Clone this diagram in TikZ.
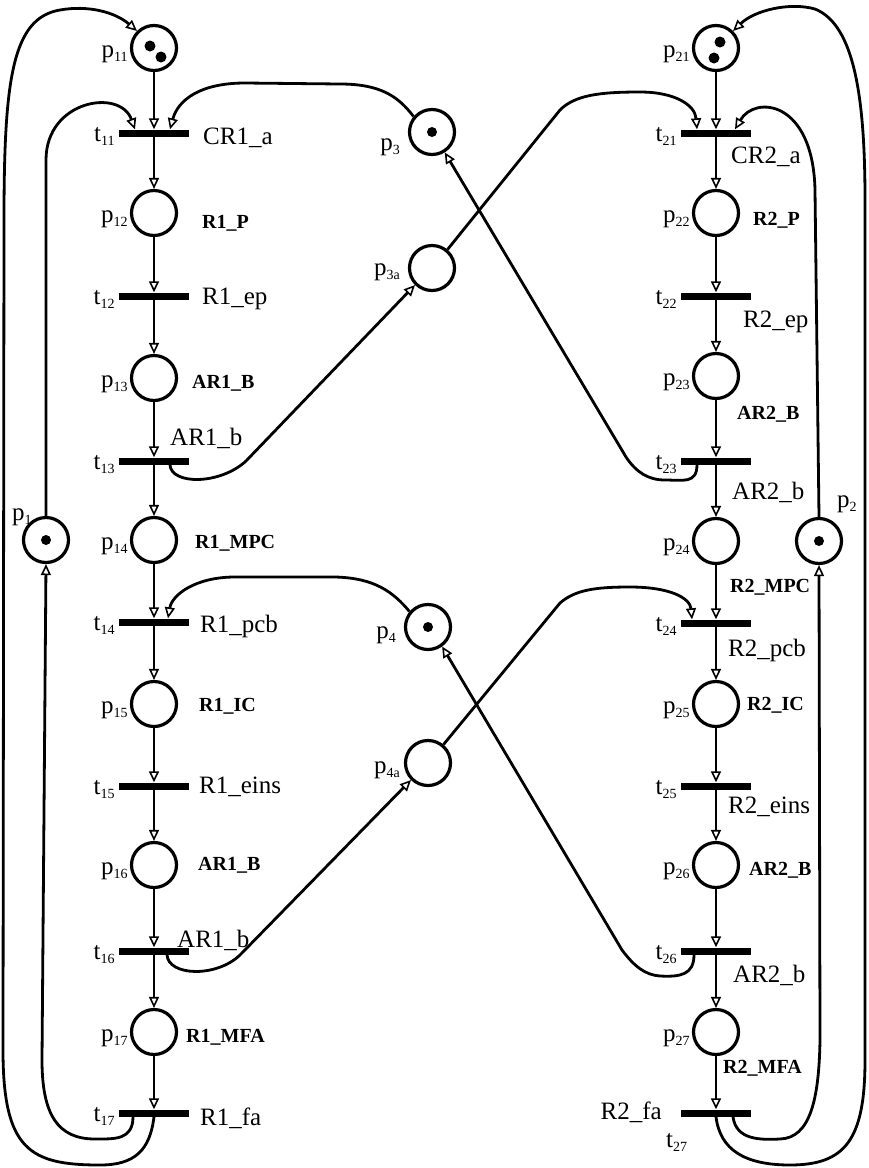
\documentclass[tikz,border=0pt]{standalone}
\usepackage{fontspec}
\setmainfont{Liberation Serif}
\usetikzlibrary{arrows.meta}
\newcommand\ix[1]{\raisebox{-4pt}{\fontsize{14}{14}\selectfont #1}}
\tikzset{
  place/.style={circle, draw, line width=3.2pt, minimum size=45pt, inner sep=0pt},
  trans/.style={rectangle, fill=black, minimum width=70pt, minimum height=7pt, inner sep=0pt},
  pnarc/.style={line width=2.8pt, -{Triangle[open, length=11pt, width=10pt, line width=1.6pt]}},
  lab/.style={font=\fontsize{25}{30}\selectfont, inner sep=0pt, anchor=base west},
  blab/.style={font=\fontsize{20}{24}\selectfont\bfseries, inner sep=0pt, anchor=base west},
  plab/.style={font=\fontsize{25}{30}\selectfont, inner sep=0pt, anchor=base east},
}
\begin{document}
\begin{tikzpicture}[x=1pt,y=-1pt]
\fill[white] (0,0) rectangle (868,1168);
\useasboundingbox (0,0) rectangle (868,1168);

% left column
\node[place] (p11) at (154,48) {};
\node[trans] (t11) at (154,133) {};
\node[place] (p12) at (154,213) {};
\node[trans] (t12) at (154,296) {};
\node[place] (p13) at (154,378) {};
\node[trans] (t13) at (154,461) {};
\node[place] (p14) at (154,540) {};
\node[trans] (t14) at (154,622) {};
\node[place] (p15) at (154,704) {};
\node[trans] (t15) at (154,786) {};
\node[place] (p16) at (154,865) {};
\node[trans] (t16) at (154,951) {};
\node[place] (p17) at (154,1032) {};
\node[trans] (t17) at (154,1113) {};
% right column
\node[place] (p21) at (716,48) {};
\node[trans] (t21) at (716,133) {};
\node[place] (p22) at (716,213) {};
\node[trans] (t22) at (716,296) {};
\node[place] (p23) at (716,376) {};
\node[trans] (t23) at (716,461) {};
\node[place] (p24) at (716,541) {};
\node[trans] (t24) at (716,623) {};
\node[place] (p25) at (716,704) {};
\node[trans] (t25) at (716,786) {};
\node[place] (p26) at (716,865) {};
\node[trans] (t26) at (716,951) {};
\node[place] (p27) at (716,1032) {};
\node[trans] (t27) at (716,1113) {};
% resources
\node[place] (p1) at (46,540) {};
\node[place] (p2) at (819,541) {};
\node[place] (p3) at (432,132) {};
\node[place] (p3a) at (432,268) {};
\node[place] (p4) at (428,627) {};
\node[place] (p4a) at (428,763) {};

% tokens
\fill (150,46) circle (5.5pt);
\fill (161,57) circle (5.5pt);
\fill (720,42) circle (5.5pt);
\fill (714,58) circle (5.5pt);
\fill (p1) circle (5pt);
\fill (p2) circle (5pt);
\fill (p3) circle (5pt);
\fill (p4) circle (5pt);

% column arcs
\foreach \a/\b in {p11/t11,t11/p12,p12/t12,t12/p13,p13/t13,t13/p14,p14/t14,t14/p15,p15/t15,t15/p16,p16/t16,t16/p17,p17/t17,
  p21/t21,t21/p22,p22/t22,t22/p23,p23/t23,t23/p24,p24/t24,t24/p25,p25/t25,t25/p26,p26/t26,t26/p27,p27/t27}
  \draw[pnarc] (\a) -- (\b);

% robot 1 loops
\draw[pnarc] (p1.north) -- (46,160) .. controls (46,100) and (120,88) .. ([xshift=-19pt]t11.north);
\draw[pnarc] ([xshift=-21pt]t17.south) .. controls (133,1140) and (115,1139) .. (95,1139)
   .. controls (58,1139) and (42,1115) .. (42,1060) -- (p1.south);
\draw[pnarc] (t17.south) .. controls (150,1150) and (135,1165) .. (100,1165)
   .. controls (30,1165) and (3,1150) .. (3,1050) -- (4,220)
   .. controls (4,80) and (12,18) .. (60,10) .. controls (88,5) and (115,12) .. (p11.135);
% robot 2 loops
\draw[pnarc] (p2.north) -- (815,190) .. controls (813,100) and (755,95) .. ([xshift=19pt]t21.north);
\draw[pnarc] ([xshift=17pt]t27.south) .. controls (736,1140) and (760,1140) .. (780,1139)
   .. controls (810,1138) and (819,1100) .. (820,1040) -- (p2.south);
\draw[pnarc] (t27.south) .. controls (720,1150) and (745,1165) .. (790,1165)
   .. controls (845,1165) and (865,1140) .. (865,1060) -- (865,200)
   .. controls (865,100) and (855,25) .. (815,9) .. controls (790,2) and (755,10) .. (p21.45);

% shared resource p3 / p3a
\draw[pnarc] (p3.140) .. controls (398,96) and (380,84) .. (340,84) -- (245,83)
   .. controls (200,83) and (178,100) .. ([xshift=16pt]t11.north);
\draw[pnarc] ([xshift=16pt]t13.south) .. controls (171,485) and (220,485) .. (246,461) -- (p3a.225);
\draw[pnarc] (p3a.50) -- (560,110) .. controls (575,95) and (600,92) .. (640,92)
   .. controls (675,92) and (695,105) .. ([xshift=-19pt]t21.north);
\draw[pnarc] ([xshift=-19pt]t23.south) .. controls (697,484) and (683,480) .. (665,480)
   .. controls (648,480) and (636,472) .. (626,457) -- (p3.-58);
% shared resource p4 / p4a
\draw[pnarc] (p4.140) .. controls (393,592) and (375,578) .. (335,577) -- (235,577)
   .. controls (195,577) and (172,595) .. ([xshift=14pt]t14.north);
\draw[pnarc] ([xshift=13pt]t16.south) .. controls (168,976) and (216,978) .. (240,955) -- (p4a.225);
\draw[pnarc] (p4a.50) -- (560,603) .. controls (575,590) and (595,587) .. (630,587)
   .. controls (670,587) and (690,598) .. ([xshift=-24pt]t24.north);
\draw[pnarc] ([xshift=-22pt]t26.south) .. controls (694,975) and (680,977) .. (660,976)
   .. controls (645,975) and (634,966) .. (622,950) -- (p4.-54);

% place labels
\foreach \n/\s in {p11/11,p12/12,p13/13,p14/14,p15/15,p16/16,p17/17,p21/21,p22/22,p23/23,p24/24,p25/25,p26/26,p27/27}
  \node[plab] (l\n) at ([xshift=-2pt,yshift=-9pt]\n.west) {p\ix{\s}};
\node[plab] (lp3) at (400,150) {p\ix{3}};
\node[plab] (lp3a) at (400,275) {p\ix{3a}};
\node[plab] (lp4) at (396,638) {p\ix{4}};
\node[plab] (lp4a) at (400,773) {p\ix{4a}};
\node[lab] (lp1) at (12,520) {p\ix{1}};
\node[lab] (lp2) at (837,507) {p\ix{2}};
% transition labels
\foreach \n/\s in {t11/11,t12/12,t13/13,t14/14,t15/15,t16/16,t17/17,t21/21,t22/22,t23/23,t24/24,t25/25,t26/26}
  \node[plab] (l\n) at ([xshift=-4pt,yshift=-8pt]\n.west) {t\ix{\s}};
\node[lab] (lt27) at (666,1147) {t\ix{27}};

% activity labels, robot 1
\node[lab]  (c1)  at (203,144) {CR1\_a};
\node[blab] (c2)  at (202,228) {R1\_P};
\node[lab]  (c3)  at (202,304) {R1\_ep};
\node[blab] (c4)  at (192,388) {AR1\_B};
\node[lab]  (c5)  at (170,445) {AR1\_b};
\node[blab] (c6)  at (195,548) {R1\_MPC};
\node[lab]  (c7)  at (200,632) {R1\_pcb};
\node[blab] (c8)  at (199,711) {R1\_IC};
\node[lab]  (c9)  at (199,793) {R1\_eins};
\node[blab] (c10) at (198,870) {AR1\_B};
\node[lab]  (c11) at (177,947) {AR1\_b};
\node[blab] (c12) at (186,1042) {R1\_MFA};
\node[lab]  (c13) at (200,1125) {R1\_fa};
% activity labels, robot 2
\node[lab]  (d1)  at (731,163) {CR2\_a};
\node[blab] (d2)  at (753,225) {R2\_P};
\node[lab]  (d3)  at (743,327) {R2\_ep};
\node[blab] (d4)  at (737,419) {AR2\_B};
\node[lab]  (d5)  at (732,499) {AR2\_b};
\node[blab] (d6)  at (730,592) {R2\_MPC};
\node[lab]  (d7)  at (728,656) {R2\_pcb};
\node[blab] (d8)  at (747,710) {R2\_IC};
\node[lab]  (d9)  at (728,813) {R2\_eins};
\node[blab] (d10) at (749,875) {AR2\_B};
\node[lab]  (d11) at (733,982) {AR2\_b};
\node[blab] (d12) at (723,1073) {R2\_MFA};
\node[plab] (d13) at (662,1119) {R2\_fa};
\end{tikzpicture}
\end{document}
